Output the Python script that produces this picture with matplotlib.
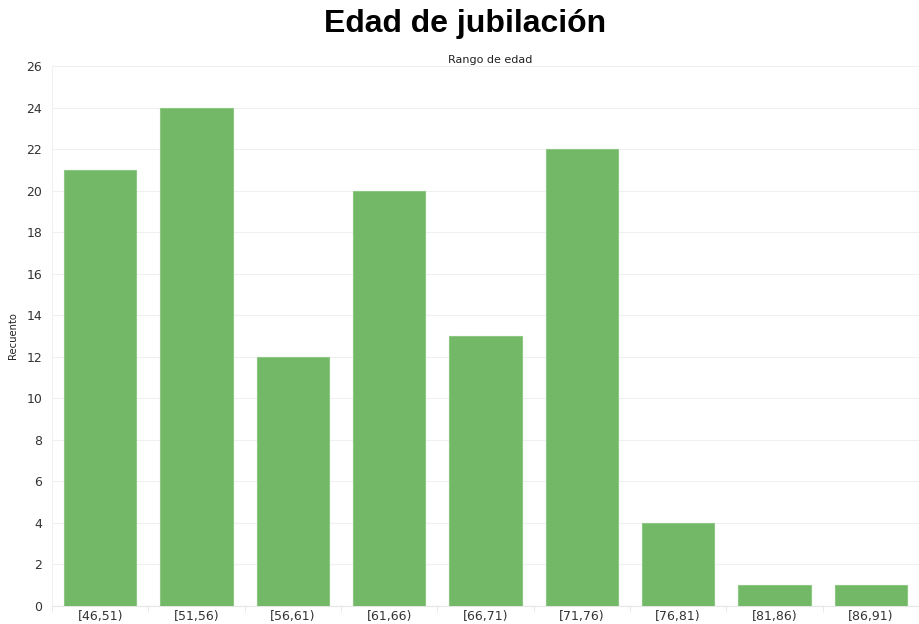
import numpy as np
import matplotlib
matplotlib.use('Agg')
import matplotlib.pyplot as plt

categories = ['[46,51)', '[51,56)', '[56,61)', '[61,66)', '[66,71)',
              '[71,76)', '[76,81)', '[81,86)', '[86,91)']
counts = [21, 24, 12, 20, 13, 22, 4, 1, 1]
yticks = list(range(0, 27, 2))

W, H = 919, 624
fig = plt.figure(figsize=(W / 100, H / 100), dpi=100)
ax = fig.add_axes([52 / W, (H - 606) / H, (W - 52) / W, (606 - 66) / H])

x = np.arange(len(categories))
ax.bar(x, counts, width=0.75, color='#72b866', edgecolor='#8cc882', linewidth=0.8, zorder=3)

ax.set_ylim(0, 26)
ax.set_xlim(-0.5, 8.41)
ax.set_yticks(yticks)
ax.set_yticklabels([str(v) for v in yticks], fontsize=9, color='#333333')
ax.set_xticks(x)
ax.set_xticklabels(categories, fontsize=9, color='#333333')
ax.set_xticks(np.arange(-0.5, 9, 1), minor=True)
ax.tick_params(axis='x', which='major', length=0, pad=3)
ax.tick_params(axis='x', which='minor', length=4, color='#e6e6e6')
ax.tick_params(axis='y', length=0, pad=7)

ax.grid(axis='y', color='#f0f0f0', linewidth=0.8, zorder=0)
for s in ['top', 'right']:
    ax.spines[s].set_visible(False)
ax.spines['left'].set_color('#f0f0f0')
ax.spines['bottom'].set_color('#e6e6e6')

ax.set_ylabel('Recuento', fontsize=8, color='#222222', fontstretch='condensed')
ax.yaxis.set_label_coords((18 - 52) / (W - 52), 0.5)
ax.xaxis.set_label_position('top')
ax.set_xlabel('Rango de edad', fontsize=8, color='#222222')
ax.xaxis.set_label_coords((490 - 52) / (W - 52), 1.005)

fig.text(465 / W, 1 - 24 / H, 'Edad de jubilación', ha='center', va='center',
         fontsize=23, fontweight='bold', family='Liberation Sans')

plt.savefig('out.png', dpi=100)
plt.close(fig)
